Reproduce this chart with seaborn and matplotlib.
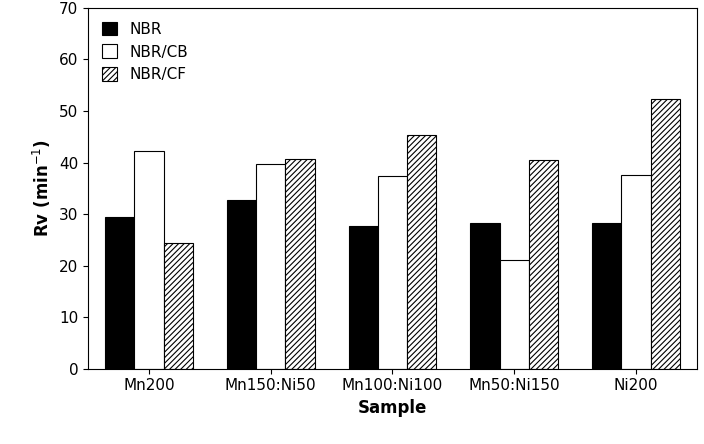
import pandas as pd
import matplotlib.pyplot as plt
import seaborn as sns

samples = ['Mn200', 'Mn150:Ni50', 'Mn100:Ni100', 'Mn50:Ni150', 'Ni200']
nbr = [29.4, 32.8, 27.6, 28.2, 28.2]
nbr_cb = [42.3, 39.8, 37.3, 21.1, 37.5]
nbr_cf = [24.3, 40.7, 45.4, 40.4, 52.4]
series = ['NBR', 'NBR/CB', 'NBR/CF']

df = pd.DataFrame({'Sample': samples * 3,
                   'Rv': nbr + nbr_cb + nbr_cf,
                   'Series': [s for s in series for _ in samples]})

plt.rcParams['hatch.color'] = '#555555'
plt.rcParams['hatch.linewidth'] = 0.8
fig, ax = plt.subplots(figsize=(7.04, 4.44), dpi=100)
sns.barplot(data=df, x='Sample', y='Rv', hue='Series', ax=ax,
            palette=['black', 'white', 'white'], edgecolor='black',
            linewidth=0.8, width=0.72, gap=0.0, saturation=1)

for bar in ax.containers[2]:
    bar.set_hatch('//////')

ax.set_ylim(0, 70)
ax.set_yticks(range(0, 71, 10))
ax.set_xlabel('Sample', fontsize=12, fontweight='bold')
ax.set_ylabel('Rv (min$^{-1}$)', fontsize=12, fontweight='bold')
ax.tick_params(labelsize=11)
for s in ax.spines.values():
    s.set_linewidth(0.8)

handles, labels = ax.get_legend_handles_labels()
handles[2].set_hatch('//////')
ax.legend(handles, labels, loc='upper left', frameon=False, fontsize=11,
          handlelength=1.0, handleheight=1.0, labelspacing=0.5)

plt.subplots_adjust(left=0.125, right=0.99, top=0.982, bottom=0.17)
plt.savefig('out.png')
